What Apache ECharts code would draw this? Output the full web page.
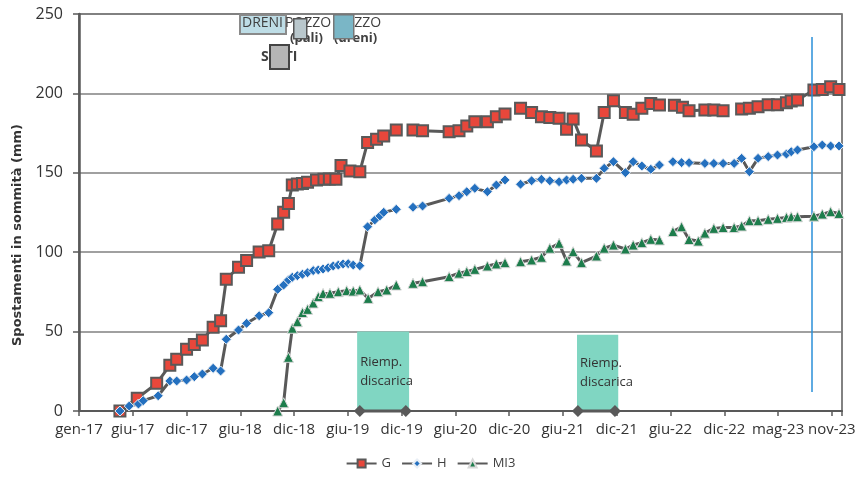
<!DOCTYPE html>
<html><head><meta charset="utf-8">
<script src="https://cdn.jsdelivr.net/npm/echarts@6/dist/echarts.min.js"></script>
<style>html,body{margin:0;padding:0;background:#fff}#c{width:861px;height:479px}</style>
</head><body><div id="c"></div>
<script>
// ---------- axis ----------
const axisStart = '2017-01-01';
const axisEnd = '2023-12-30';
const tickStepDays = 180;
const monthNames = ['gen','feb','mar','apr','mag','giu','lug','ago','set','ott','nov','dic'];
const yTicks = [0, 50, 100, 150, 200, 250];
const yTitle = 'Spostamenti in sommità (mm)';

// ---------- series G ----------
const gDates = ['2017-05-18','2017-07-15','2017-09-18','2017-11-01','2017-11-24','2017-12-27','2018-01-22','2018-02-18','2018-03-26','2018-04-20','2018-05-09','2018-06-19','2018-07-16','2018-08-27','2018-09-28','2018-10-28','2018-11-17','2018-12-03','2018-12-16','2019-01-02','2019-01-19','2019-02-05','2019-03-07','2019-04-01','2019-04-19','2019-05-11','2019-05-28','2019-06-27','2019-07-30','2019-08-25','2019-09-24','2019-10-18','2019-11-29','2019-12-28','2020-01-24','2020-02-25','2020-05-24','2020-06-26','2020-07-22','2020-08-18','2020-09-29','2020-10-29','2020-11-27','2020-12-24','2021-01-18','2021-02-24','2021-03-29','2021-04-26','2021-05-27','2021-06-21','2021-07-13','2021-08-10','2021-09-29','2021-10-25','2021-11-25','2022-01-04','2022-01-30','2022-02-28','2022-03-30','2022-04-28','2022-05-23','2022-06-17','2022-07-14','2022-08-05','2022-09-27','2022-10-27','2022-11-27','2022-12-26','2023-01-28','2023-02-23','2023-03-24','2023-04-27','2023-05-28','2023-06-27','2023-07-13','2023-08-03','2023-09-27','2023-10-25','2023-11-22','2023-12-20'];
const gValues = [0,8,17.4,28.8,32.6,38.9,41.8,44.7,52.7,56.9,83,90.5,94.8,100.2,100.9,117.7,125.2,130.7,142.3,143,143.3,144,145.5,145.9,146.1,145.9,154.6,151.1,150.7,169.1,171.2,173.2,177,null,177,176.5,175.9,176.5,179.5,182.2,182.2,185.3,187,null,190.6,188,185.3,184.9,184.3,177.4,183.9,170.7,163.7,188,195.4,188,186.8,190.6,193.7,192.7,null,192.5,191.2,189.1,189.5,189.5,189.1,null,190.2,190.6,191.6,192.9,192.9,194.1,195.2,195.8,202.1,202.5,204.2,202.5];

// ---------- series H ----------
const hDates = ['2017-05-18','2017-06-18','2017-07-19','2017-08-04','2017-09-23','2017-11-01','2017-11-24','2017-12-27','2018-01-22','2018-02-18','2018-03-26','2018-04-20','2018-05-09','2018-06-19','2018-07-16','2018-08-27','2018-09-28','2018-10-28','2018-11-17','2018-12-03','2018-12-16','2019-01-02','2019-01-19','2019-02-05','2019-02-24','2019-03-13','2019-03-29','2019-04-15','2019-05-02','2019-05-19','2019-06-04','2019-06-21','2019-07-08','2019-07-30','2019-08-25','2019-09-18','2019-10-05','2019-10-18','2019-11-29','2019-12-28','2020-01-24','2020-02-25','2020-05-24','2020-06-26','2020-07-22','2020-08-18','2020-09-29','2020-10-29','2020-11-27','2020-12-24','2021-01-18','2021-02-24','2021-03-29','2021-04-26','2021-05-27','2021-06-21','2021-07-13','2021-08-10','2021-09-29','2021-10-25','2021-11-25','2022-01-04','2022-01-30','2022-02-28','2022-03-30','2022-04-28','2022-05-23','2022-06-12','2022-07-11','2022-08-05','2022-09-27','2022-10-27','2022-11-27','2023-01-03','2023-01-28','2023-02-23','2023-03-24','2023-04-27','2023-05-28','2023-06-27','2023-07-13','2023-08-03','2023-09-27','2023-10-25','2023-11-22','2023-12-20'];
const hValues = [0,3.1,4.4,6.5,9.6,18.9,18.9,19.5,21.6,23.3,26.9,25.2,45.2,51,55.2,60,61.9,76.6,79.3,82.5,84.2,85.2,86.1,87.1,88.4,88.8,89.4,90.2,91.3,91.9,92.6,92.8,91.9,91.5,116,120.3,122.8,125.1,127,null,128.3,129.1,133.9,135.6,138.1,140.2,138.1,142.3,145.5,null,142.8,145,145.9,145,144.4,145.5,145.9,146.5,146.5,152.8,157,150.1,157,154.3,152.2,154.9,null,157,156.4,156.4,155.9,155.9,155.9,155.9,159.1,150.7,159.1,160.2,161.2,161.8,163.3,164.4,166.4,167.5,166.9,166.9];

// ---------- series MI3 ----------
const mDates = ['2018-10-28','2018-11-17','2018-12-03','2018-12-16','2019-01-02','2019-01-19','2019-02-05','2019-02-24','2019-03-13','2019-03-29','2019-04-21','2019-05-19','2019-06-16','2019-07-08','2019-07-30','2019-08-27','2019-09-29','2019-10-28','2019-11-29','2019-12-28','2020-01-24','2020-02-25','2020-05-24','2020-06-26','2020-07-22','2020-08-18','2020-09-29','2020-10-29','2020-11-27','2020-12-24','2021-01-18','2021-02-24','2021-03-29','2021-04-26','2021-05-27','2021-06-21','2021-07-13','2021-08-10','2021-09-29','2021-10-25','2021-11-25','2022-01-04','2022-01-30','2022-02-28','2022-03-30','2022-04-28','2022-05-23','2022-06-12','2022-07-11','2022-08-05','2022-09-05','2022-09-27','2022-10-27','2022-11-27','2023-01-03','2023-01-28','2023-02-23','2023-03-24','2023-04-27','2023-05-28','2023-06-27','2023-07-13','2023-08-03','2023-09-27','2023-10-25','2023-11-22','2023-12-20'];
const mValues = [0,5.2,33.8,52.1,56.2,62,64,68,72,74,74.1,75.1,75.8,75.5,76.2,70.9,75.1,76.2,79.3,null,80.4,81.4,84.6,86.8,87.8,89.2,91.3,92.6,93.4,null,94,95.1,96.8,102.5,105.6,94.5,100.3,93.4,97.6,102.5,104.5,102,104.5,106,108.1,107.7,null,113,116,108,107,112,115,115.5,115.5,116.5,119.8,119.8,120.7,121.3,121.9,122.3,122.3,122.7,124,125.5,124.4];

// ---------- "Riemp. discarica" periods ----------
const fillBoxStart = ['2019-07-21','2021-07-26'];
const fillBoxEnd   = ['2020-01-11','2021-12-11'];
const fillBoxTop   = [50, 48];
const fillMarkStart = ['2019-07-30','2021-07-29'];
const fillMarkEnd   = ['2019-12-31','2021-11-30'];
const fillLabel = 'Riemp.\ndiscarica';

// ---------- vertical reference line ----------
const refLineDate = '2023-09-20';
const refLineRange = [12, 235.5];

const DAY = 86400000;
const t0 = Date.UTC(2017, 0, 1);
function toDays(s) { const p = s.split('-').map(Number); return Math.round((Date.UTC(p[0], p[1]-1, p[2]) - t0) / DAY); }
function build(dates, vals) { return dates.map((d, i) => [toDays(d), vals[i] == null ? '-' : vals[i]]); }

const LINE = '#595959';
const chart = echarts.init(document.getElementById('c'));

const markData = [];
fillMarkStart.forEach((s, i) => { markData.push([toDays(s), 0], [toDays(fillMarkEnd[i]), 0]); if (i < fillMarkStart.length - 1) markData.push([toDays(fillMarkEnd[i]) + 1, '-']); });

const option = {
  animation: false,
  backgroundColor: '#fff',
  grid: { left: 79, right: 19, top: 14, bottom: 68, show: true, borderColor: LINE, borderWidth: 1.5 },
  xAxis: {
    type: 'value', min: toDays(axisStart), max: toDays(axisEnd), interval: tickStepDays,
    axisLine: { show: true, lineStyle: { color: LINE, width: 2 } },
    axisTick: { show: true, length: 5, lineStyle: { color: LINE, width: 1.5 } },
    splitLine: { show: false },
    axisLabel: {
      margin: 11, color: '#333', fontFamily: 'Open Sans', fontSize: 15,
      formatter: v => { if (v % tickStepDays !== 0) return ''; const d = new Date(t0 + v * DAY); return monthNames[d.getUTCMonth()] + '-' + String(d.getUTCFullYear()).slice(2); }
    }
  },
  yAxis: {
    type: 'value', min: yTicks[0], max: yTicks[yTicks.length-1], interval: yTicks[1] - yTicks[0],
    axisLine: { show: true, lineStyle: { color: LINE, width: 2.5 } },
    axisTick: { show: true, length: 6, lineStyle: { color: LINE, width: 1.5 } },
    splitLine: { show: true, lineStyle: { color: '#808080', width: 1.5 } },
    axisLabel: { margin: 16, color: '#333', fontFamily: 'Open Sans', fontSize: 16 }
  },
  legend: {
    data: ['G', 'H', 'MI3'], bottom: 4, left: 'center', itemWidth: 30, itemHeight: 10, itemGap: 10,
    textStyle: { fontFamily: 'Open Sans', fontSize: 13, color: '#404040' }
  },
  series: [
    {
      name: 'Riemp', type: 'line', data: markData, clip: false, z: 3,
      symbol: 'diamond', symbolSize: 12, showAllSymbol: true,
      itemStyle: { color: LINE }, lineStyle: { color: LINE, width: 3 },
      markArea: {
        silent: true,
        itemStyle: { color: '#80d6c2', opacity: 1 },
        label: { show: true, position: 'insideLeft', distance: 3, color: '#333', fontFamily: 'Open Sans', fontSize: 13, lineHeight: 19 },
        data: fillBoxStart.map((s, i) => [{ coord: [toDays(s), 0], name: fillLabel }, { coord: [toDays(fillBoxEnd[i]), fillBoxTop[i]] }])
      },
      markLine: {
        silent: true, symbol: 'none', label: { show: false },
        lineStyle: { color: '#2a8fd8', width: 1.5, type: 'solid' },
        data: [[{ coord: [toDays(refLineDate), refLineRange[0]] }, { coord: [toDays(refLineDate), refLineRange[1]] }]]
      }
    },
    {
      name: 'G', type: 'line', data: build(gDates, gValues), clip: false, z: 4,
      symbol: 'rect', symbolSize: 11, showAllSymbol: true,
      itemStyle: { color: '#e8473b', borderColor: LINE, borderWidth: 2 },
      lineStyle: { color: LINE, width: 3 }
    },
    {
      name: 'H', type: 'line', data: build(hDates, hValues), clip: false, z: 5,
      symbol: 'diamond', symbolSize: 10, showAllSymbol: true,
      itemStyle: { color: '#2470bf', borderColor: '#e8eef5', borderWidth: 1 },
      lineStyle: { color: LINE, width: 3 }
    },
    {
      name: 'MI3', type: 'line', data: build(mDates, mValues), clip: false, z: 6,
      symbol: 'triangle', symbolSize: 10, showAllSymbol: true,
      itemStyle: { color: '#1d7d4c', borderColor: '#d8d8d8', borderWidth: 1 },
      lineStyle: { color: LINE, width: 3 }
    }
  ],
  graphic: [
    { type: 'text', x: 18, y: 235, rotation: Math.PI / 2, z: 10, style: { text: yTitle, font: 'bold 13px "DejaVu Sans"', fill: '#333', align: 'center', verticalAlign: 'middle' } },
    { type: 'text', left: 242, top: 16, z: 10, style: { text: 'DRENI', font: '14px "Open Sans"', fill: '#404040' } },
    { type: 'rect', left: 239, top: 14, z: 9, shape: { width: 46, height: 19 }, style: { fill: 'rgba(110,180,200,0.45)', stroke: '#8a8a8a', lineWidth: 2 } },
    { type: 'text', left: 285, top: 16, z: 10, style: { text: 'POZZO', font: '14px "Open Sans"', fill: '#404040' } },
    { type: 'rect', left: 293, top: 18, z: 11, shape: { width: 13, height: 20 }, style: { fill: '#b9c7cc', stroke: '#555', lineWidth: 1.5 } },
    { type: 'text', left: 290, top: 32, z: 10, style: { text: '(pali)', font: 'bold 13px "Open Sans"', fill: '#404040' } },
    { type: 'text', left: 335, top: 16, z: 10, style: { text: 'POZZO', font: '14px "Open Sans"', fill: '#404040' } },
    { type: 'rect', left: 333, top: 14, z: 11, shape: { width: 20, height: 24 }, style: { fill: '#7ab6c6', stroke: '#777', lineWidth: 1.5 } },
    { type: 'text', left: 334, top: 32, z: 10, style: { text: '(dreni)', font: 'bold 13px "Open Sans"', fill: '#404040' } },
    { type: 'text', left: 261, top: 50, z: 10, style: { text: 'SETTI', font: 'bold 14px "Open Sans"', fill: '#404040' } },
    { type: 'rect', left: 269, top: 44, z: 11, shape: { width: 19, height: 24 }, style: { fill: '#b5b5b5', stroke: '#444', lineWidth: 2 } }
  ]
};
chart.setOption(option);
</script></body></html>
